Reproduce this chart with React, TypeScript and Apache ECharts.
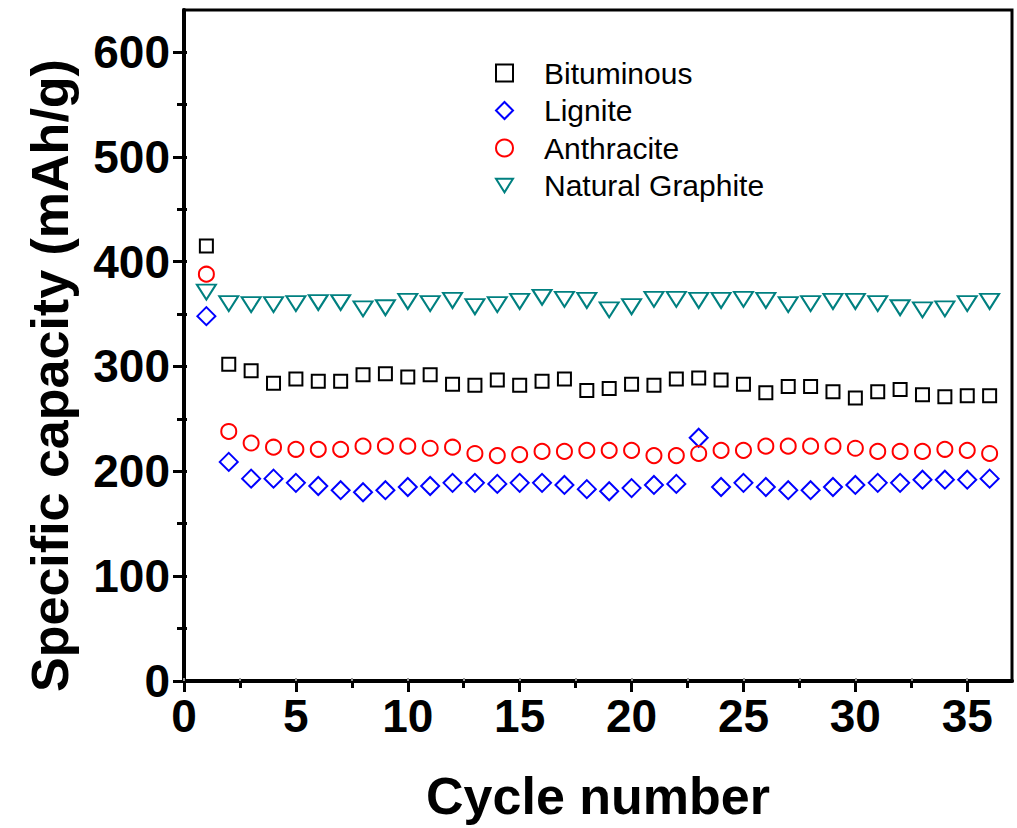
import React, { useEffect, useRef } from "react";
import * as echarts from "echarts";

const cycles = [1, 2, 3, 4, 5, 6, 7, 8, 9, 10, 11, 12, 13, 14, 15, 16, 17, 18, 19, 20, 21, 22, 23, 24, 25, 26, 27, 28, 29, 30, 31, 32, 33, 34, 35, 36];

const bituminous = [415, 302, 296, 284, 288, 286, 286, 292, 293, 290, 292, 283, 282, 287, 282, 286, 288, 277, 279, 283, 282, 288, 289, 287, 283, 275, 281, 281, 276, 270, 276, 278, 273, 271, 272, 272];
const lignite = [348, 209, 193, 193, 189, 186, 182, 180, 182, 185, 186, 189, 189, 188, 189, 189, 187, 183, 181, 184, 187, 188, 232, 185, 189, 185, 182, 182, 185, 187, 189, 189, 192, 192, 192, 193];
const anthracite = [388, 238, 227, 223, 221, 221, 221, 224, 224, 224, 222, 223, 217, 215, 216, 219, 219, 220, 220, 220, 215, 215, 217, 220, 220, 224, 224, 224, 224, 222, 219, 219, 219, 221, 220, 217];
const graphite = [371, 360, 359, 359, 360, 361, 361, 355, 356, 362, 360, 363, 357, 359, 362, 366, 364, 363, 354, 357, 364, 364, 363, 363, 364, 363, 359, 360, 362, 362, 360, 356, 354, 355, 360, 362];

const xMajorTicks = [0, 5, 10, 15, 20, 25, 30, 35];
const xMinorTicks = [2.5, 7.5, 12.5, 17.5, 22.5, 27.5, 32.5];
const xTopTicks = [0, 2.5, 5, 7.5, 10, 12.5, 15, 17.5, 20, 22.5, 25, 27.5, 30, 32.5, 35];
const yMajorTicks = [0, 100, 200, 300, 400, 500, 600];
const yMinorTicks = [50, 150, 250, 350, 450, 550];
const yRightTicks = [0, 50, 100, 150, 200, 250, 300, 350, 400, 450, 500, 550, 600];

const seriesNames = ["Bituminous", "Lignite", "Anthracite", "Natural Graphite"];

const FONT = "'Liberation Sans', Arial, Helvetica, sans-serif";

export default function App() {
  const ref = useRef<HTMLDivElement>(null);

  useEffect(() => {
    if (!ref.current) return;
    const chart = echarts.init(ref.current, null, { renderer: "svg" });

    const pair = (vals: number[]) => cycles.map((c, i) => [c, vals[i]]);
    const X_MIN = 0;
    const X_MAX = 37;
    const Y_MIN = 0;
    const Y_MAX = 640;

    const hollow = (color: string) => ({
      color: "rgba(255,255,255,0)",
      borderColor: color,
      borderWidth: 2,
      opacity: 1,
    });

    const option: any = {
      animation: false,
      backgroundColor: "#fff",
      grid: {
        left: 184,
        right: 5,
        top: 10,
        bottom: 147,
        show: true,
        borderColor: "#000",
        borderWidth: 3,
        backgroundColor: "transparent",
      },
      legend: {
        orient: "vertical",
        left: 490,
        top: 53,
        itemWidth: 17,
        itemHeight: 17,
        itemGap: 7.5,
        data: seriesNames,
        textStyle: {
          fontSize: 30,
          lineHeight: 30,
          fontFamily: FONT,
          color: "#000",
          padding: [0, 0, 0, 26],
        },
      },
      xAxis: [
        {
          type: "value",
          min: X_MIN,
          max: X_MAX,
          position: "bottom",
          name: "Cycle number",
          nameLocation: "middle",
          nameGap: 89,
          nameTextStyle: { fontSize: 52, fontWeight: "bold", fontFamily: FONT, color: "#000" },
          axisLine: { show: true, onZero: false, lineStyle: { color: "#000", width: 4 } },
          axisTick: { show: true, customValues: xMajorTicks, length: 11, lineStyle: { color: "#000", width: 3 } },
          axisLabel: {
            customValues: xMajorTicks,
            fontSize: 46,
            fontWeight: "bold",
            fontFamily: FONT,
            color: "#000",
            margin: 12,
          },
          splitLine: { show: false },
        },
        {
          type: "value",
          min: X_MIN,
          max: X_MAX,
          position: "bottom",
          axisLine: { show: false },
          axisTick: { show: true, customValues: xMinorTicks, length: 7, lineStyle: { color: "#000", width: 3 } },
          axisLabel: { show: false },
          splitLine: { show: false },
        },
        {
          type: "value",
          min: X_MIN,
          max: X_MAX,
          position: "top",
          axisLine: { show: false },
          axisTick: { show: true, customValues: xTopTicks, length: 3, lineStyle: { color: "#999", width: 2 } },
          axisLabel: { show: false },
          splitLine: { show: false },
        },
      ],
      yAxis: [
        {
          type: "value",
          min: Y_MIN,
          max: Y_MAX,
          position: "left",
          name: "Specific capacity (mAh/g)",
          nameLocation: "middle",
          nameGap: 108,
          nameTextStyle: {
            fontSize: 52,
            fontWeight: "bold",
            fontFamily: FONT,
            color: "#000",
            padding: [0, 60, 0, 0],
          },
          axisLine: { show: true, onZero: false, lineStyle: { color: "#000", width: 4 } },
          axisTick: { show: true, customValues: yMajorTicks, length: 11, lineStyle: { color: "#000", width: 3 } },
          axisLabel: {
            customValues: yMajorTicks,
            fontSize: 46,
            fontWeight: "bold",
            fontFamily: FONT,
            color: "#000",
            margin: 14,
          },
          splitLine: { show: false },
        },
        {
          type: "value",
          min: Y_MIN,
          max: Y_MAX,
          position: "left",
          axisLine: { show: false },
          axisTick: { show: true, customValues: yMinorTicks, length: 7, lineStyle: { color: "#000", width: 3 } },
          axisLabel: { show: false },
          splitLine: { show: false },
        },
        {
          type: "value",
          min: Y_MIN,
          max: Y_MAX,
          position: "right",
          axisLine: { show: false },
          axisTick: { show: true, customValues: yRightTicks, length: 3, lineStyle: { color: "#000", width: 3 } },
          axisLabel: { show: false },
          splitLine: { show: false },
        },
      ],
      series: [
        {
          name: "Bituminous",
          type: "scatter",
          symbol: "rect",
          symbolSize: 13,
          data: pair(bituminous),
          itemStyle: hollow("#000000"),
        },
        {
          name: "Lignite",
          type: "scatter",
          symbol: "diamond",
          symbolSize: 18,
          data: pair(lignite),
          itemStyle: hollow("#0000ff"),
        },
        {
          name: "Anthracite",
          type: "scatter",
          symbol: "circle",
          symbolSize: 15,
          data: pair(anthracite),
          itemStyle: hollow("#ff0000"),
        },
        {
          name: "Natural Graphite",
          type: "scatter",
          symbol: "path://M0,0L20,0L10,16Z",
          symbolSize: [19, 15],
          data: pair(graphite),
          itemStyle: hollow("#008080"),
        },
      ],
    };

    chart.setOption(option);
    return () => chart.dispose();
  }, []);

  return (
    <div
      ref={ref}
      style={{ position: "fixed", left: 0, top: 0, width: 1017, height: 828, background: "#fff" }}
    />
  );
}
